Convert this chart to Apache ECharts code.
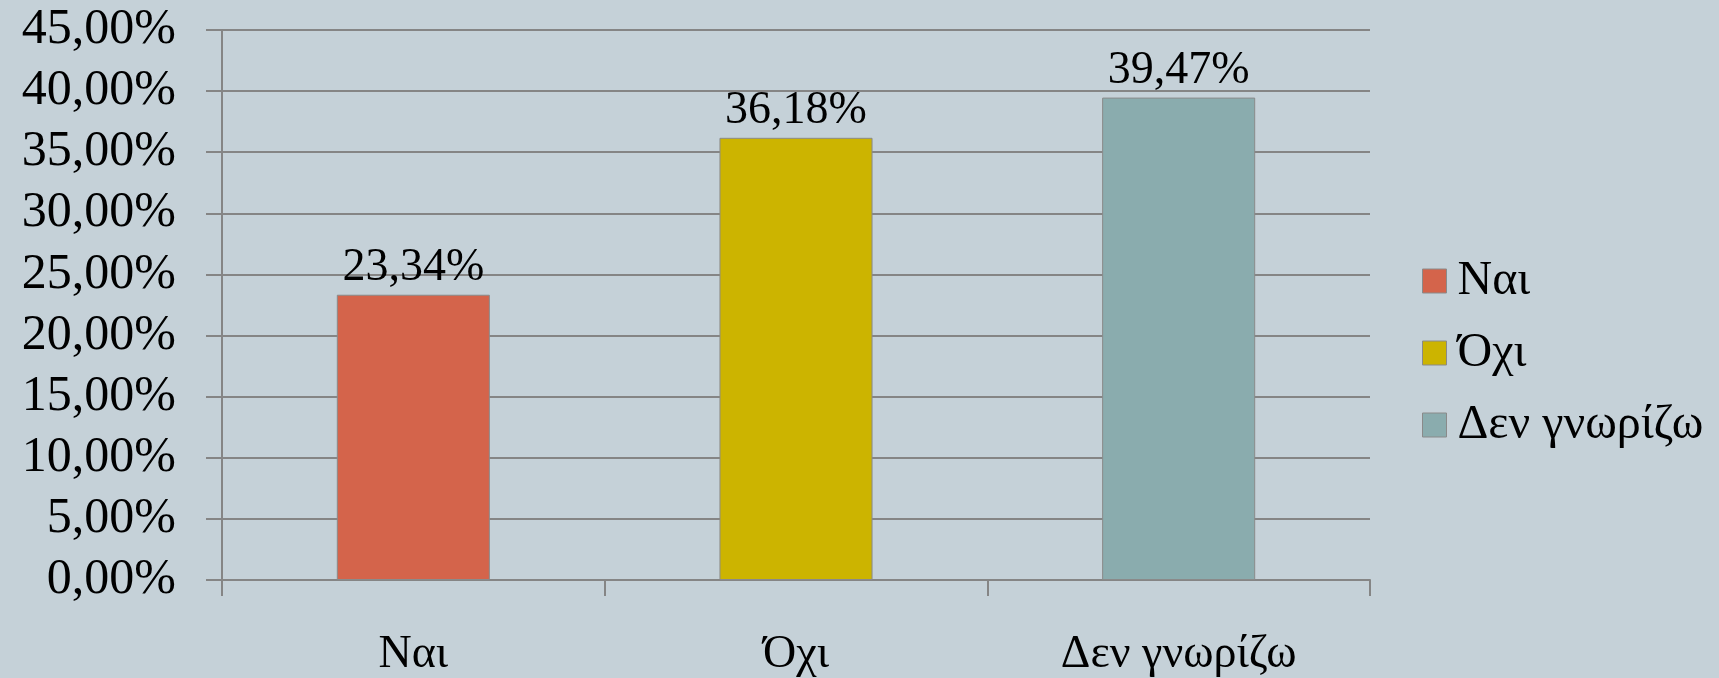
<!DOCTYPE html>
<html>
<head>
<meta charset="utf-8">
<script src="https://cdn.jsdelivr.net/npm/echarts@6/dist/echarts.min.js"></script>
<style>
html,body{margin:0;padding:0;background:#c5d1d8;}
#c{width:1719px;height:678px;}
</style>
</head>
<body>
<div id="c"></div>
<script>
const categories = ['Ναι', 'Όχι', 'Δεν γνωρίζω'];
const seriesNames = ['Ναι', 'Όχι', 'Δεν γνωρίζω'];
const values = [23.34, 36.18, 39.47];
const colors = ['#d4644b', '#ccb400', '#8aacae'];
const yMin = 0, yMax = 45, yStep = 5;

const FONT = 'Liberation Serif';
const fmt = v => v.toFixed(2).replace('.', ',') + '%';

const series = seriesNames.map((name, i) => ({
  name: name,
  type: 'bar',
  stack: 'all',
  barWidth: '40%',
  data: categories.map((c, j) => (j === i ? values[i] : '-')),
  itemStyle: { color: colors[i], borderColor: '#8a8a8a', borderWidth: 1 },
  label: {
    show: true,
    position: 'top',
    distance: 4,
    formatter: p => fmt(p.value),
    fontFamily: FONT,
    fontSize: 46,
    color: '#000'
  }
}));

const chart = echarts.init(document.getElementById('c'));
chart.setOption({
  backgroundColor: '#c5d1d8',
  animation: false,
  grid: { left: 222, right: 349, top: 30, bottom: 95, containLabel: false },
  legend: {
    orient: 'vertical',
    left: 1417,
    top: 252,
    itemWidth: 24,
    itemHeight: 24,
    itemGap: 24,
    icon: 'rect',
    itemStyle: { borderColor: '#8a8a8a', borderWidth: 1 },
    textStyle: { fontFamily: FONT, fontSize: 48, color: '#000', padding: [0, 0, 0, 6] },
    data: seriesNames
  },
  xAxis: {
    type: 'category',
    data: categories,
    axisLine: { lineStyle: { color: '#858585', width: 2 } },
    axisTick: { show: true, length: 16, lineStyle: { color: '#858585', width: 2 } },
    axisLabel: { fontFamily: FONT, fontSize: 46, color: '#000', margin: 52 }
  },
  yAxis: {
    type: 'value',
    min: yMin,
    max: yMax,
    interval: yStep,
    axisLine: { show: true, lineStyle: { color: '#858585', width: 2 } },
    axisTick: { show: true, length: 16, lineStyle: { color: '#858585', width: 2 } },
    splitLine: { show: true, lineStyle: { color: '#858585', width: 2 } },
    axisLabel: { fontFamily: FONT, fontSize: 50, color: '#000', margin: 46, formatter: v => fmt(v) }
  },
  series: series
});
</script>
</body>
</html>
